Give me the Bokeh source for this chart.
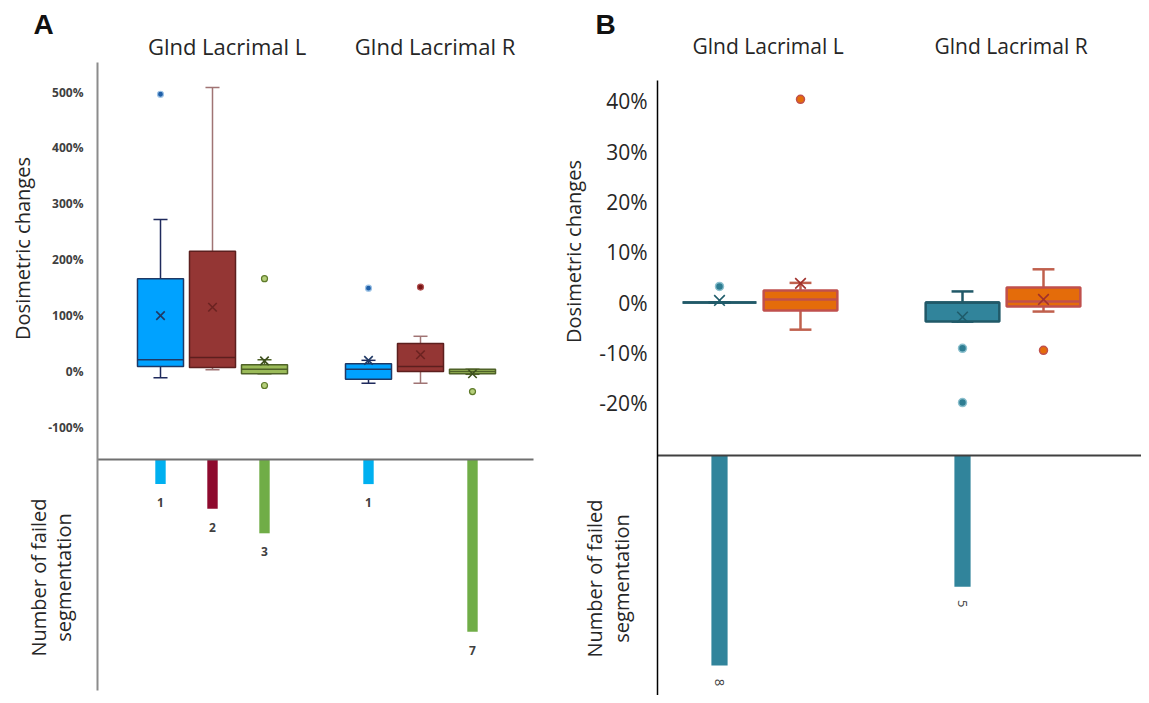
import math
from bokeh.plotting import figure
from bokeh.layouts import row
from bokeh.models import (Range1d, FixedTicker, PrintfTickFormatter, Label, ColumnDataSource,
                          LinearAxis)
from bokeh.embed import file_html
from bokeh.resources import INLINE
from bokeh.core.properties import value

FONT = "Open Sans"

# ------------------ DATA: panel A ------------------
A_GROUPS = ["Glnd Lacrimal L", "Glnd Lacrimal R"]
A_LOW = [-11, 3, -4, -21, -21, -5]
A_Q1 = [9, 7, -4, -14, 0, -4]
A_MED = [21, 25, 4, 4, 9, 0]
A_Q3 = [166, 215, 12, 14, 50, 4]
A_HIGH = [272, 508, 21, 20, 63, 4]
A_MEAN = [100, 115, 19, 20, 30, -4]
A_OUT_BOX = [0, 2, 2, 3, 4, 5]
A_OUT_VAL = [496, 166, -25, 149, 151, -36]
A_FAILED = [1, 2, 3, 1, 0, 7]
A_TICKS = [-100, 0, 100, 200, 300, 400, 500]

# ------------------ DATA: panel B ------------------
B_GROUPS = ["Glnd Lacrimal L", "Glnd Lacrimal R"]
B_LOW = [0.0, -5.4, -3.8, -1.8]
B_Q1 = [0.0, -1.6, -3.8, -0.8]
B_MED = [0.0, 0.6, 0.0, 0.2]
B_Q3 = [0.0, 2.4, 0.0, 3.0]
B_HIGH = [0.0, 3.9, 2.2, 6.6]
B_MEAN = [0.4, 3.8, -2.9, 0.6]
B_OUT_BOX = [0, 1, 2, 2, 3]
B_OUT_VAL = [3.2, 40.4, -9.1, -19.9, -9.5]
B_FAILED = [8, 0, 5, 0]
B_TICKS = [-20, -10, 0, 10, 20, 30, 40]

# ------------------ styles ------------------
A_FILL = ["#00A2FF", "#943634", "#9BBB59"]
A_LINE = ["#1F3864", "#5C1F1E", "#4F6228"]
A_WHISK = ["#1F2A5C", "#A07474", "#4F6228"]
A_MEANC = ["#1F3864", "#6B2321", "#3D4F1E"]
A_OFILL = ["#1F5FA8", "#7A1515", "#B5CF7A"]
A_OLINE = ["#9DC3E6", "#B05050", "#5E7A2A"]
A_BAR = ["#00B0F0", "#8E0A2E", "#70AD47"]

B_FILL = ["#31849B", "#E46C0A"]
B_LINE = ["#215968", "#C0504D"]
B_WHISK = ["#215968", "#C0604D"]
B_MEANC = ["#1F5C6B", "#A0302C"]
B_OFILL = ["#2E7D92", "#E46C0A"]
B_OLINE = ["#8CC0CE", "#C0504D"]
B_BAR = ["#31849B", "#31849B"]

TXT = "#262626"


class Geo:
    """pixel <-> data mapping of one panel (image pixel coordinates)."""

    def __init__(self, left_px, width, height, x0_px, x_step, y0_px, y_scale, c0_px, c_scale):
        self.left, self.w, self.h = left_px, width, height
        self.x0, self.xs = x0_px, x_step
        self.y0, self.ys = y0_px, y_scale
        self.c0, self.cs = c0_px, c_scale

    def x(self, px):
        return (px - self.x0) / self.xs

    def y(self, py):
        return (self.y0 - py) / self.ys

    def c(self, py):
        return (self.c0 - py) / self.cs


def make_panel(g, axis_px, axis_top_px, axis_bot_px, hline_right_px, ticks, tick_font, tick_bold,
               tick_color, standoff, axis_color, axis_w, hline_color):
    p = figure(width=g.w, height=g.h,
               x_range=Range1d(g.x(g.left), g.x(g.left + g.w)),
               y_range=Range1d(g.y(g.h), g.y(0)),
               output_backend="svg", toolbar_location=None,
               x_axis_location=None, y_axis_location=None,
               min_border_left=0, min_border_right=0, min_border_top=0, min_border_bottom=0)
    p.extra_y_ranges = {"cnt": Range1d(g.c(g.h), g.c(0))}
    p.grid.visible = False
    p.outline_line_color = None
    p.background_fill_color = "white"
    p.border_fill_color = "white"

    yax = LinearAxis(fixed_location=g.x(axis_px), bounds=(g.y(axis_bot_px), g.y(axis_top_px)),
                     ticker=FixedTicker(ticks=ticks), formatter=PrintfTickFormatter(format="%d%%"))
    yax.major_tick_line_color = None
    yax.minor_tick_line_color = None
    yax.major_tick_out = 0
    yax.major_tick_in = 0
    yax.axis_line_color = axis_color
    yax.axis_line_width = axis_w
    yax.major_label_text_font = FONT
    yax.major_label_text_font_size = tick_font
    yax.major_label_text_font_style = "bold" if tick_bold else "normal"
    yax.major_label_text_color = tick_color
    yax.major_label_standoff = standoff
    p.add_layout(yax, "left")

    hax = LinearAxis(fixed_location=0, y_range_name="cnt",
                     bounds=(g.x(axis_px), g.x(hline_right_px)),
                     ticker=FixedTicker(ticks=[]))
    hax.major_tick_line_color = None
    hax.minor_tick_line_color = None
    hax.major_label_text_font_size = "0px"
    hax.axis_line_color = hline_color
    hax.axis_line_width = 2
    p.add_layout(hax, "below")
    return p


def draw_boxes(p, xs, lo, q1, med, q3, hi, mean, fills, lines, whisks, meancs,
               box_w, cap_w, lw, msize):
    src = ColumnDataSource(dict(
        x=xs, lo=lo, q1=q1, med=med, q3=q3, hi=hi, mean=mean,
        xl=[x - box_w / 2 for x in xs], xr=[x + box_w / 2 for x in xs],
        cl=[x - cap_w / 2 for x in xs], cr=[x + cap_w / 2 for x in xs],
        fill=fills, line=lines, wc=whisks, mc=meancs))
    p.segment(x0="x", y0="q3", x1="x", y1="hi", line_color="wc", line_width=lw, source=src)
    p.segment(x0="x", y0="q1", x1="x", y1="lo", line_color="wc", line_width=lw, source=src)
    p.segment(x0="cl", y0="hi", x1="cr", y1="hi", line_color="wc", line_width=lw, source=src)
    p.segment(x0="cl", y0="lo", x1="cr", y1="lo", line_color="wc", line_width=lw, source=src)
    p.vbar(x="x", width=box_w, top="q3", bottom="q1", fill_color="fill", line_color="line",
           line_width=lw, source=src)
    p.segment(x0="xl", y0="med", x1="xr", y1="med", line_color="line", line_width=lw, source=src)
    p.scatter(x="x", y="mean", marker="x", size=msize, line_color="mc", line_width=1.6, source=src)


def add_label(p, x, y, text, size, angle=0.0, bold=False, font=FONT, color=TXT):
    p.add_layout(Label(x=x, y=y, text=text, angle=angle, text_font=font, text_font_size=size,
                       text_font_style="bold" if bold else "normal", text_color=color,
                       text_align="center", text_baseline="middle"))


# ================= PANEL A =================
A_POS = [g * 4 + s for g in range(len(A_GROUPS)) for s in range(3)]
A_SER = [s for g in range(len(A_GROUPS)) for s in range(3)]
gA = Geo(0, 560, 695, 160, 52, 371, 0.559, 459, 24.6)

pA = make_panel(gA, 97, 62, 690, 533, A_TICKS, "12px", True, "#404040", 14,
                "#8C8C8C", 2, "#707070")

draw_boxes(pA, A_POS, A_LOW, A_Q1, A_MED, A_Q3, A_HIGH, A_MEAN,
           [A_FILL[s] for s in A_SER], [A_LINE[s] for s in A_SER],
           [A_WHISK[s] for s in A_SER], [A_MEANC[s] for s in A_SER],
           0.885, 0.27, 1.5, 12)

pA.scatter(x=[A_POS[i] for i in A_OUT_BOX], y=A_OUT_VAL, marker="circle", size=6,
           fill_color=[A_OFILL[A_SER[i]] for i in A_OUT_BOX],
           line_color=[A_OLINE[A_SER[i]] for i in A_OUT_BOX], line_width=1.2)

a_keep = [i for i in range(len(A_FAILED)) if A_FAILED[i] > 0]
a_bx = [A_POS[i] for i in a_keep]
a_bv = [A_FAILED[i] for i in a_keep]
pA.vbar(x=a_bx, top=0, bottom=[-v for v in a_bv], width=0.2,
        fill_color=[A_BAR[A_SER[i]] for i in a_keep], line_color=None, y_range_name="cnt")
pA.text(x=a_bx, y=[-v - 0.75 for v in a_bv], text=[str(v) for v in a_bv], y_range_name="cnt",
        text_font=value(FONT), text_font_size="12px", text_font_style="bold",
        text_color="#404040", text_align="center", text_baseline="middle")

add_label(pA, gA.x(43), gA.y(24), "A", "28px", bold=True, font="Liberation Sans", color="#111111")
for gi, name in enumerate(A_GROUPS):
    gx = (A_POS[gi * 3] + A_POS[gi * 3 + 2]) / 2 + 0.28
    add_label(pA, gx, gA.y(45), name, "22px")
add_label(pA, gA.x(22), gA.y(248), "Dosimetric changes", "20px", angle=math.pi / 2)
add_label(pA, gA.x(38), gA.y(577), "Number of failed", "20px", angle=math.pi / 2)
add_label(pA, gA.x(63), gA.y(577), "segmentation", "20px", angle=math.pi / 2)

# ================= PANEL B =================
B_POS = [g * 3 + s for g in range(len(B_GROUPS)) for s in range(2)]
B_SER = [s for g in range(len(B_GROUPS)) for s in range(2)]
gB = Geo(560, 581, 695, 719, 81, 302, 5.03, 455, 26.25)

pB = make_panel(gB, 657, 80, 695, 1141, B_TICKS, "21px", False, TXT, 10,
                "#000000", 1.5, "#404040")

draw_boxes(pB, B_POS, B_LOW, B_Q1, B_MED, B_Q3, B_HIGH, B_MEAN,
           [B_FILL[s] for s in B_SER], [B_LINE[s] for s in B_SER],
           [B_WHISK[s] for s in B_SER], [B_MEANC[s] for s in B_SER],
           0.91, 0.27, 2.5, 15)

pB.scatter(x=[B_POS[i] for i in B_OUT_BOX], y=B_OUT_VAL, marker="circle", size=8,
           fill_color=[B_OFILL[B_SER[i]] for i in B_OUT_BOX],
           line_color=[B_OLINE[B_SER[i]] for i in B_OUT_BOX], line_width=1.5)

b_keep = [i for i in range(len(B_FAILED)) if B_FAILED[i] > 0]
b_bx = [B_POS[i] for i in b_keep]
b_bv = [B_FAILED[i] for i in b_keep]
pB.vbar(x=b_bx, top=0, bottom=[-v for v in b_bv], width=0.2,
        fill_color=[B_BAR[B_SER[i]] for i in b_keep], line_color=None, y_range_name="cnt")
pB.text(x=b_bx, y=[-v - 0.65 for v in b_bv], text=[str(v) for v in b_bv], y_range_name="cnt",
        angle=-math.pi / 2, text_font=value(FONT), text_font_size="13px",
        text_color="#404040", text_align="center", text_baseline="middle")

add_label(pB, gB.x(605), gB.y(24), "B", "28px", bold=True, font="Liberation Sans", color="#111111")
for gi, name in enumerate(B_GROUPS):
    gx = (B_POS[gi * 2] + B_POS[gi * 2 + 1]) / 2 + 0.1
    add_label(pB, gx, gB.y(45), name, "21px")
add_label(pB, gB.x(573), gB.y(251), "Dosimetric changes", "20px", angle=math.pi / 2)
add_label(pB, gB.x(594), gB.y(578), "Number of failed", "20px", angle=math.pi / 2)
add_label(pB, gB.x(621), gB.y(578), "segmentation", "20px", angle=math.pi / 2)

layout = row(pA, pB)
open("out.html", "w").write(file_html(layout, INLINE))
